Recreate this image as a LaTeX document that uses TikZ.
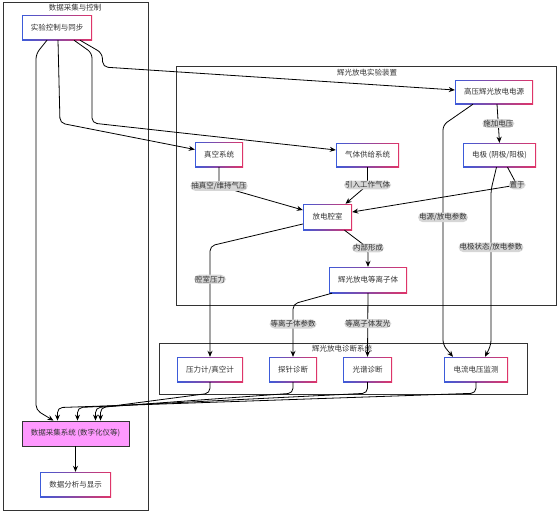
\documentclass[tikz,border=0pt]{standalone}
\usepackage{fontspec}
\setmainfont{Noto Sans CJK SC}
\usetikzlibrary{arrows.meta}
\definecolor{boxblue}{HTML}{3D5BD9}
\definecolor{boxred}{HTML}{E03468}
\definecolor{txtgray}{HTML}{333333}
\definecolor{lblgray}{HTML}{D6D6D6}
\definecolor{daqpink}{HTML}{FF99FF}
\begin{document}
\begin{tikzpicture}[x=1pt,y=-1pt,>={Stealth[length=6pt,width=5pt]},font=\fontsize{7.5}{9}\selectfont]
            \tikzstyle{group}=[draw=txtgray,line width=0.8pt]
            \tikzstyle{title}=[text=txtgray,inner sep=0pt]
            \tikzstyle{box}=[left color=boxblue,right color=boxred,text=txtgray,minimum height=25pt,inner sep=0pt,
                path picture={\fill[white] ([shift={(1pt,1pt)}]path picture bounding box.south west) rectangle ([shift={(-1pt,-1pt)}]path picture bounding box.north east);}]
            \tikzstyle{lbl}=[fill=lblgray,text=txtgray,inner sep=1pt]
            \tikzstyle{link}=[->,line width=0.8pt,rounded corners=5pt]
                \useasboundingbox (0,0) rectangle (560,514);

                \draw[group] (3,2) rectangle (148,510);
                \draw[group] (176,66) rectangle (556,305);
                \draw[group] (159,343) rectangle (527,394);
                \node[title] (T-acq) at (75,8) {数据采集与控制};
                \node[title] (T-dev) at (367,73) {辉光放电实验装置};
                \node[title] (T-diag) at (342,349) {辉光放电诊断系统};

                \node[box,minimum width=70pt] (ctrl) at (57,27.5){实验控制与同步};
                \node[box,minimum width=78pt,minimum height=24pt] (hv) at (494,92){高压辉光放电电源};
                \node[box,minimum width=48pt] (vac) at (219,154.5){真空系统};
                \node[box,minimum width=63pt,minimum height=24pt] (gas) at (367.5,155){气体供给系统};
                \node[box,minimum width=73pt,minimum height=24pt] (elec) at (499.5,155){电极 (阴极/阳极)};
                \node[box,minimum width=49pt,minimum height=26pt] (cham) at (327.5,217){放电腔室};
                \node[box,minimum width=78pt,minimum height=26pt] (plasma) at (368,280){辉光放电等离子体};
                \node[box,minimum width=66pt] (pres) at (210,369.5){压力计/真空计};
                \node[box,minimum width=48pt] (probe) at (293,369.5){探针诊断};
                \node[box,minimum width=49pt] (spec) at (367.5,369.5){光谱诊断};
                \node[box,minimum width=64pt] (iv) at (476,369.5){电流电压监测};
                \node[draw=txtgray,fill=daqpink,text=txtgray,line width=0.8pt,minimum width=107pt,minimum height=25pt,inner sep=0pt] (daq) at (75.5,433.5){数据采集系统 (数字化仪等)};
                \node[box,minimum width=71pt] (disp) at (75.5,484.5){数据分析与显示};

                \draw[link] ([xshift=-10pt]ctrl.south) -- (36,54) -- (36,410) -- ([xshift=-22pt]daq.north);
                \draw[link] ([xshift=1pt]ctrl.south) -- (60,123) -- ([yshift=5pt]vac.west);
                \draw[link] ([xshift=17pt]ctrl.south) -- (92,53) -- (92,123) -- ([yshift=5pt]gas.west);
                \draw[link] ([xshift=23pt]ctrl.south) -- (102,53) -- (103,67) -- ([yshift=2pt]hv.west);

                \draw[link] ([xshift=3pt]hv.south) -- node[lbl] {施加电压} (elec.north);
                \draw[link] ([xshift=-21pt]hv.south) -- (443,125) -- node[lbl,pos=0.42] {电源/放电参数} (443,345) -- ([xshift=-23pt]iv.north);
                \draw[link] ([xshift=-3pt]elec.south) -- (491,190) -- node[lbl,pos=0.37] {电极状态/放电参数} (491,345) -- ([xshift=9pt]iv.north);
                \draw[link] ([xshift=8pt]elec.south) -- (517,185) node[lbl] {置于} -- ([yshift=5pt]cham.east);

                \draw[link] (vac.south) -- (219,186) node[lbl] {抽真空/维持气压} -- ([yshift=7pt]cham.west);
                \draw[link] (gas.south) -- (367.5,185) node[lbl] {引入工作气体} -- ([xshift=18pt]cham.north);
                \draw[link] ([xshift=17pt]cham.south) -- (368,248) node[lbl] {内部形成} -- (plasma.north);
                \draw[link] ([yshift=-7pt]cham.west) -- (210,246) -- node[lbl,pos=0.3] {腔室压力} (pres.north);
                \draw[link] ([xshift=-36pt]plasma.south) -- (293,304) -- node[lbl,pos=0.38] {等离子体参数} (probe.north);
                \draw[link] (plasma.south) -- node[lbl,pos=0.48] {等离子体发光} (spec.north);

                \foreach \from/\shift in {pres/25, probe/20, spec/2, iv/-18}
                    \draw[link] (\from.south) -- ++(0,11) -- ([xshift=\shift pt,yshift=13pt]daq.north) -- ([xshift=\shift pt]daq.north);
                \draw[link] (daq.south) -- (disp.north);
        \end{tikzpicture}
\end{document}
